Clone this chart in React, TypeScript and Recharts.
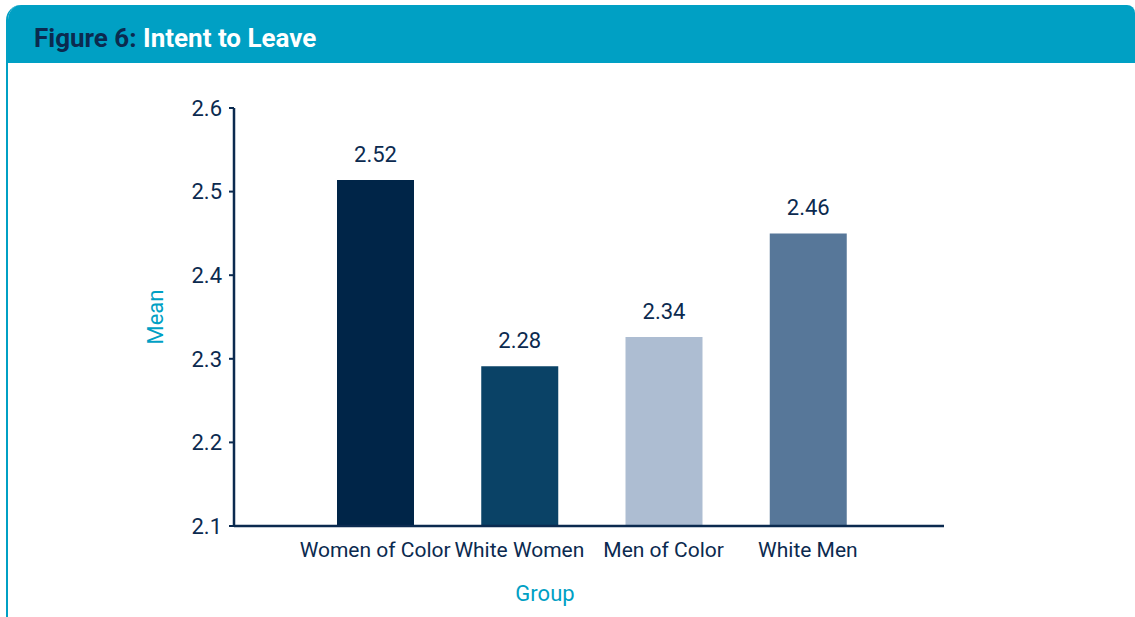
import React from 'react';
import { BarChart, Bar, XAxis, YAxis, Cell, LabelList } from 'recharts';

const groups = ['Women of Color', 'White Women', 'Men of Color', 'White Men'];
const means = [2.514, 2.291, 2.326, 2.45];
const meanLabels = ['2.52', '2.28', '2.34', '2.46'];
const barColors = ['#002548', '#0a4266', '#adbdd2', '#577799'];
const yTicks = [2.1, 2.2, 2.3, 2.4, 2.5, 2.6];

const data = groups.map((g, i) => ({ group: g, mean: means[i], label: meanLabels[i] }));

const NAVY = '#0b2a4f';
const TEAL = '#00a0c4';
const FONT = 'Roboto, sans-serif';

const YLabel = (props: any) => {
  const vb = props.viewBox;
  const x = vb.x + 1;
  const y = vb.y + vb.height / 2;
  return (
    <text x={x} y={y} transform={`rotate(-90 ${x} ${y})`} textAnchor="middle" dominantBaseline="central"
      fill={TEAL} fontSize={22} fontFamily={FONT}>Mean</text>
  );
};

const XLabel = (props: any) => {
  const vb = props.viewBox;
  const x = vb.x + vb.width / 2 - 44;
  const y = vb.y + 75;
  return (
    <text x={x} y={y} textAnchor="middle" fill={TEAL} fontSize={22} fontFamily={FONT}>Group</text>
  );
};

export default function App() {
  return (
    <div style={{ position: 'absolute', left: 0, top: 0, width: 1135, height: 617, background: '#fff', overflow: 'hidden', fontFamily: FONT }}>
      <div style={{ position: 'absolute', left: 6, top: 5, width: 1127, height: 700, borderLeft: `2.5px solid ${TEAL}`, borderTopLeftRadius: 15, borderTopRightRadius: 8, overflow: 'hidden' }}>
        <div style={{ height: 58, background: TEAL }} />
      </div>
      <div style={{ position: 'absolute', left: 34, top: 25, fontSize: 26, lineHeight: '26px', fontWeight: 700, fontFamily: FONT, whiteSpace: 'nowrap' }}>
        <span style={{ color: NAVY }}>Figure 6: </span>
        <span style={{ color: '#ffffff' }}>Intent to Leave</span>
      </div>
      <div style={{ position: 'absolute', left: 0, top: 0 }}>
        <BarChart width={1135} height={617} data={data} margin={{ top: 108, right: 191, bottom: 0, left: 154 }}>
          <XAxis dataKey="group" type="category" padding={{ left: 69, right: 64 }} height={91}
            axisLine={{ stroke: NAVY, strokeWidth: 2.5 }} tickLine={false} tickSize={0} tickMargin={16}
            tick={{ fill: NAVY, fontSize: 21, fontFamily: FONT }} interval={0}
            label={<XLabel />} />
          <YAxis type="number" domain={[2.1, 2.6]} ticks={yTicks} width={80} allowDataOverflow
            axisLine={{ stroke: NAVY, strokeWidth: 2.5 }} tickLine={{ stroke: NAVY, strokeWidth: 2 }}
            tickSize={5} tickMargin={7} tick={{ fill: NAVY, fontSize: 22, fontFamily: FONT }}
            label={<YLabel />} />
          <Bar dataKey="mean" barSize={77} isAnimationActive={false}>
            {data.map((d, i) => <Cell key={d.group} fill={barColors[i]} />)}
            <LabelList dataKey="label" position="top" offset={18} fill={NAVY} fontSize={22} fontFamily={FONT} />
          </Bar>
        </BarChart>
      </div>
    </div>
  );
}
